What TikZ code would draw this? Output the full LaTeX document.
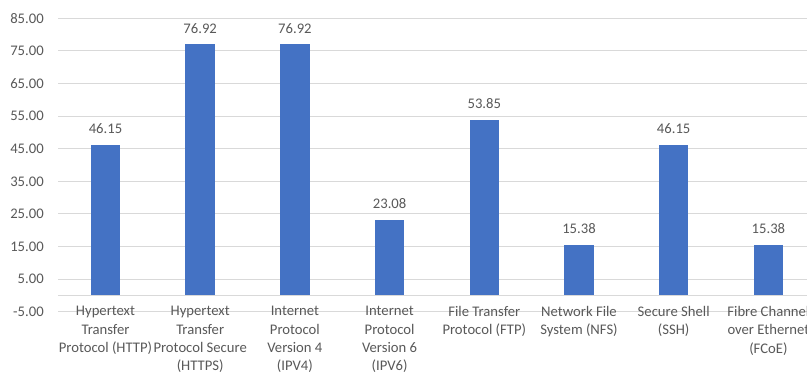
\documentclass[tikz,border=0pt]{standalone}
\usepackage{fontspec}
\setmainfont{Carlito}
\usepackage{tikz}
\usetikzlibrary{positioning}
\definecolor{barblue}{HTML}{4472C4}
\definecolor{gridgray}{HTML}{D9D9D9}
\definecolor{ink}{HTML}{595959}
\tikzset{
  gridline/.style={draw=gridgray,line width=.75pt},
  colbar/.style={
    fill=barblue,inner sep=0pt,anchor=south,
    minimum width=22.1pt,minimum height=#1*2.445pt
  },
  vallabel/.style={
    text=ink,inner sep=0pt,anchor=base,
    font=\fontsize{11}{13.7}\selectfont
  },
  catlabel/.style={
    text=ink,inner sep=0pt,anchor=north,align=center,
    font=\fontsize{11}{13.7}\selectfont,
    execute at begin node=\strut
  },
  ticklabel/.style={
    text=ink,inner sep=0pt,anchor=east,
    font=\fontsize{11}{13.7}\selectfont
  }
}

\begin{document}
\begin{tikzpicture}[x=0.75pt,y=0.75pt]
\fill[white] (0,0) rectangle (807,375);
\useasboundingbox (0,0) rectangle (807,375);
\clip (0,0) rectangle (807,375);

% gridlines and axis values
\foreach \v in {-5,5,...,85}{
  \draw[gridline] (58,{79.5+3.26*\v}) -- (820,{79.5+3.26*\v});
  \node[ticklabel] (tick\v) at (44,{79.5+3.26*\v}) {\v.00};
}
\coordinate (o) at (58,79.5);
\draw[gridline] (o) -- (820,79.5);

\node[colbar=46.15] (b1) at (105.5,79.5) {};
\node[colbar=76.92] (b2) at (200.2,79.5) {};
\node[colbar=76.92] (b3) at (294.9,79.5) {};
\node[colbar=23.08] (b4) at (389.6,79.5) {};
\node[colbar=53.85] (b5) at (484.3,79.5) {};
\node[colbar=15.38] (b6) at (579.0,79.5) {};
\node[colbar=46.15] (b7) at (673.7,79.5) {};
\node[colbar=15.38] (b8) at (768.4,79.5) {};

\node[above=8.25pt of b1,vallabel] (v1) {46.15};
\node[above=8.25pt of b2,vallabel] (v2) {76.92};
\node[above=8.25pt of b3,vallabel] (v3) {76.92};
\node[above=8.25pt of b4,vallabel] (v4) {23.08};
\node[above=8.25pt of b5,vallabel] (v5) {53.85};
\node[above=8.25pt of b6,vallabel] (v6) {15.38};
\node[above=8.25pt of b7,vallabel] (v7) {46.15};
\node[above=8.25pt of b8,vallabel] (v8) {15.38};

\node[below=8pt of b1.south,catlabel] (c1) {Hypertext\\Transfer\\Protocol (HTTP)};
\node[below=8pt of b2.south,catlabel] (c2) {Hypertext\\Transfer\\Protocol Secure\\(HTTPS)};
\node[below=8pt of b3.south,catlabel] (c3) {Internet\\Protocol\\Version 4\\(IPV4)};
\node[below=8pt of b4.south,catlabel] (c4) {Internet\\Protocol\\Version 6\\(IPV6)};
\node[below=8pt of b5.south,catlabel] (c5) {File Transfer\\Protocol (FTP)};
\node[below=8pt of b6.south,catlabel] (c6) {Network File\\System (NFS)};
\node[below=8pt of b7.south,catlabel] (c7) {Secure Shell\\(SSH)};
\node[below=8pt of b8.south,catlabel] (c8) {Fibre Channel\\over Ethernet\\(FCoE)};
\end{tikzpicture}
\end{document}
